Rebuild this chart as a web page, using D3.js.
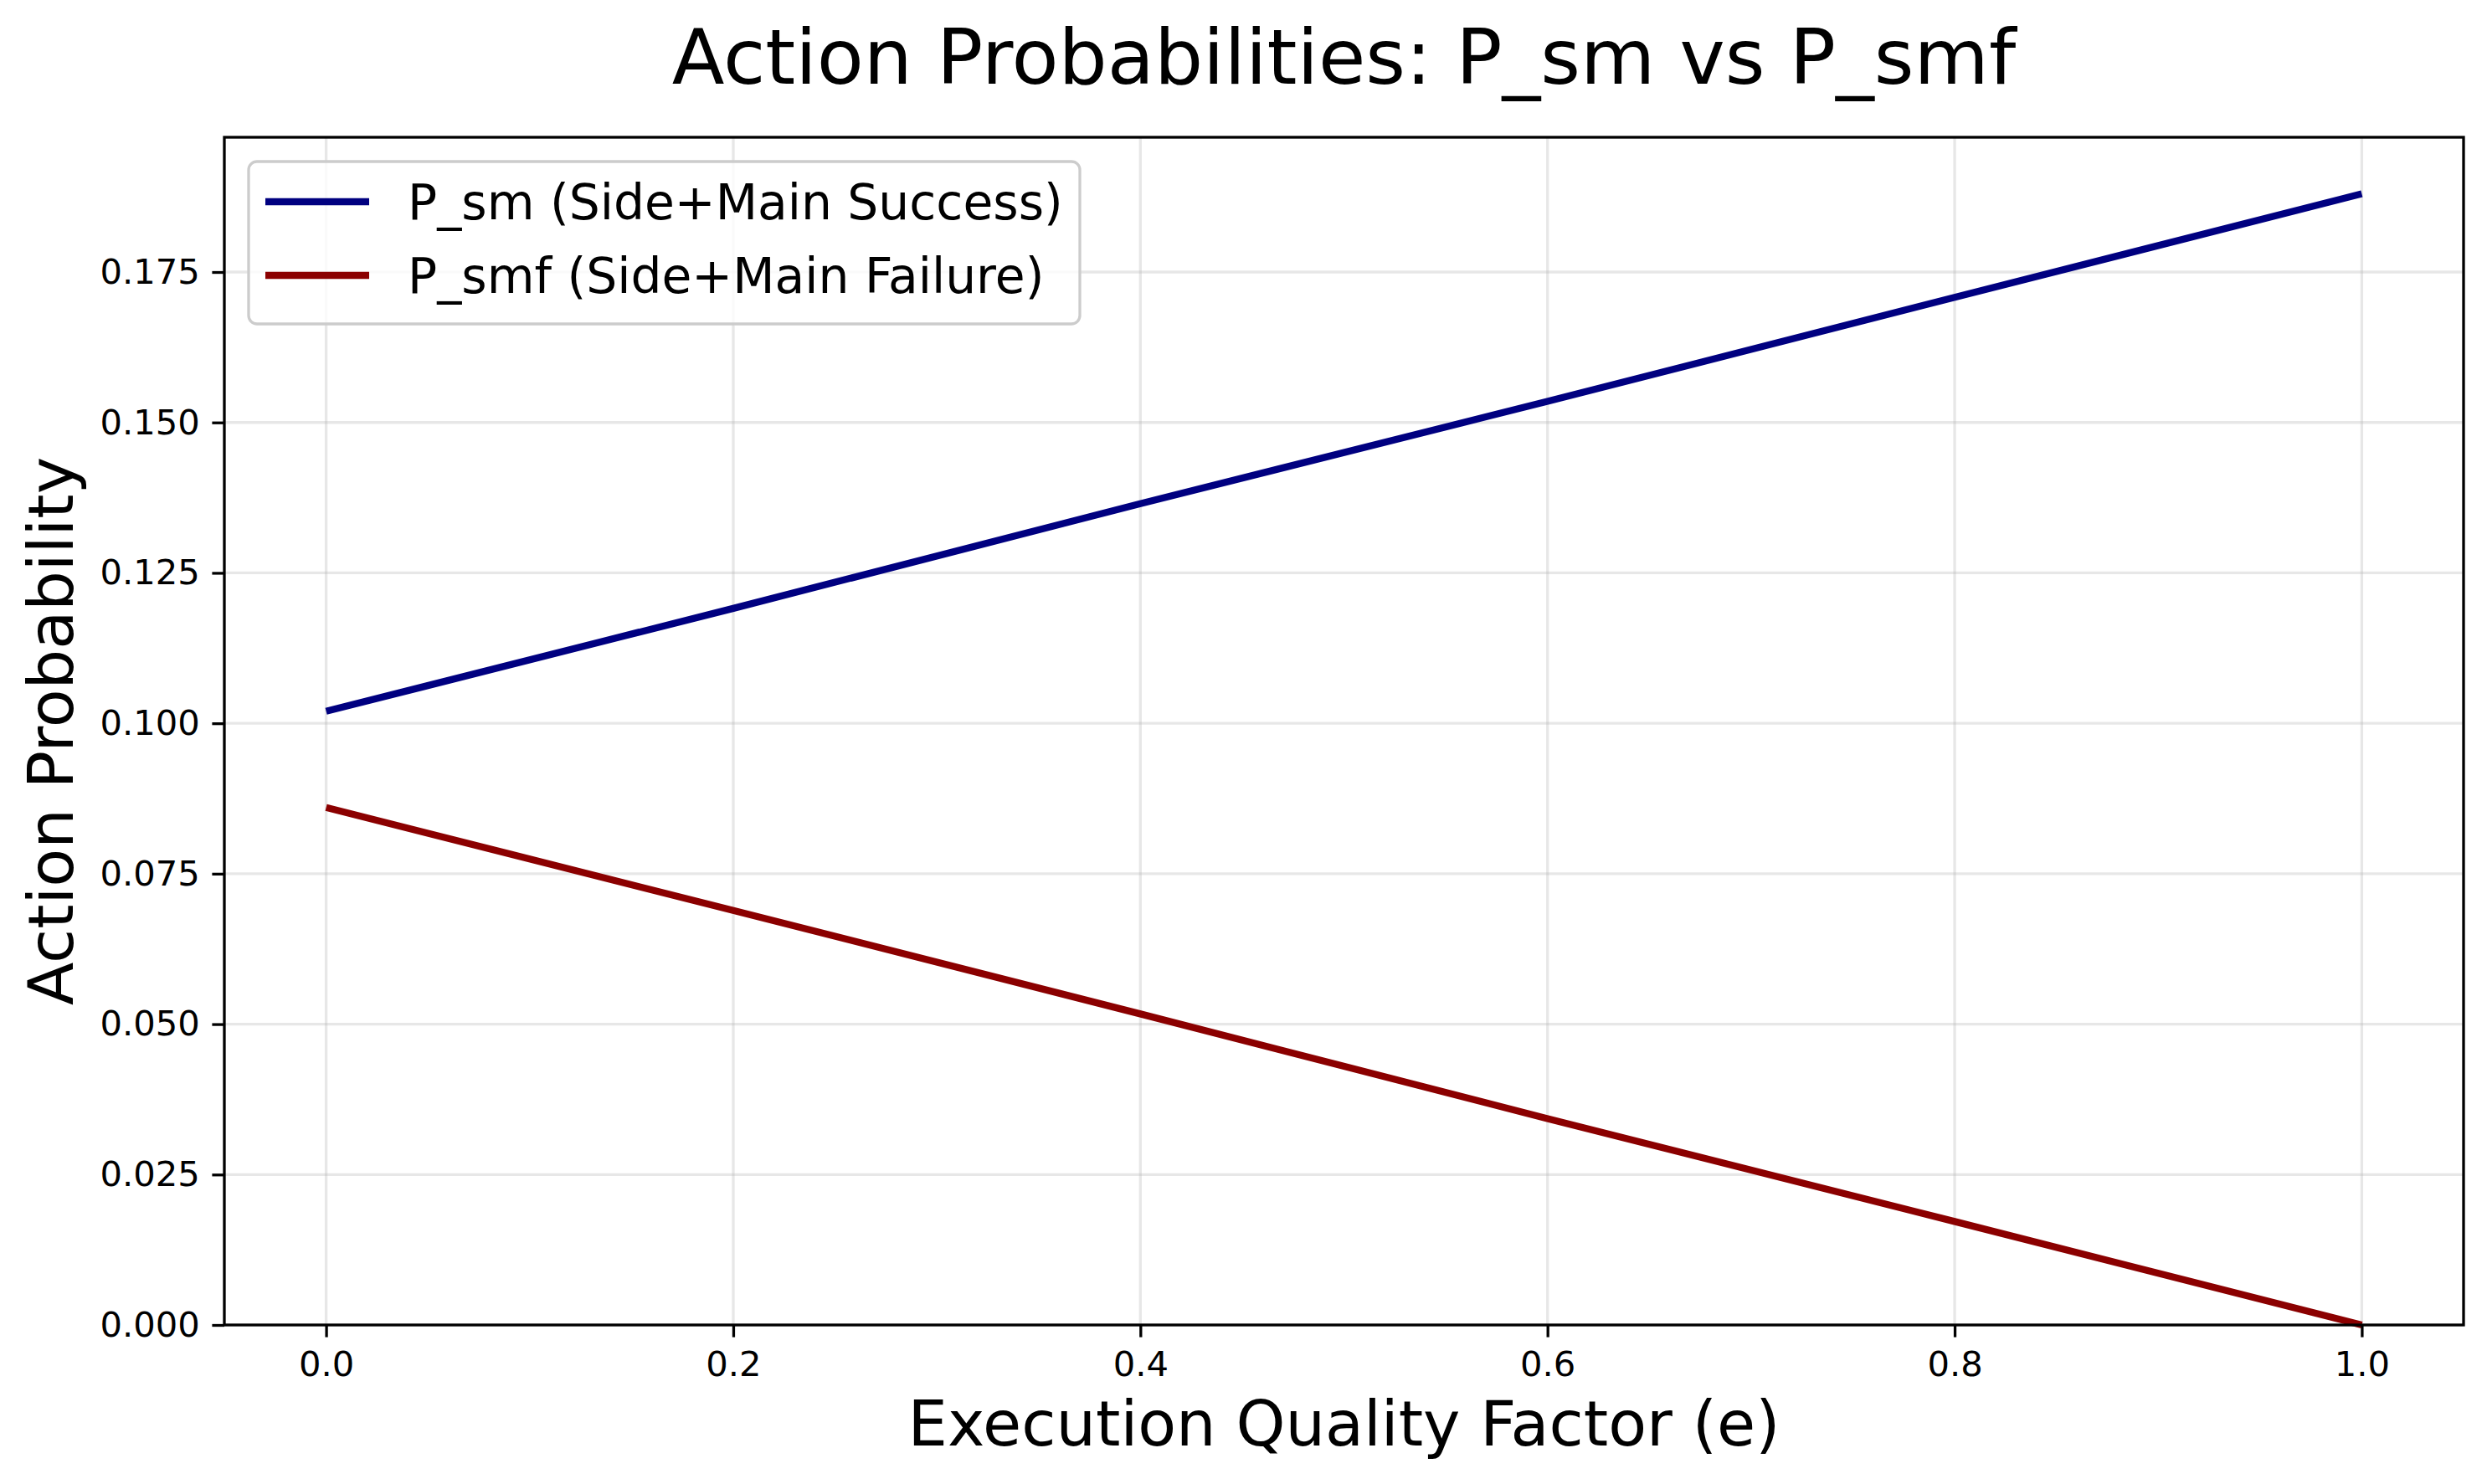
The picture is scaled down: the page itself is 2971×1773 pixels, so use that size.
<!DOCTYPE html>
<html lang="en">
<head>
  <meta charset="UTF-8" />
  <title>Action Probabilities: P_sm vs P_smf</title>
  <style>
    body {
      margin: 0;
      background: #fff;
      font-family: 'DejaVu Sans', sans-serif;
    }
    .grid line {
      stroke: #b0b0b0;
      stroke-opacity: 0.3;
      stroke-width: 3.3px;
    }
    .axis path, .axis line {
      stroke: #000;
      stroke-width: 3.3px;
    }
    .axis text {
      font-size: 41.7px;
      fill: #000;
      font-family: 'DejaVu Sans', sans-serif;
    }
    .series {
      fill: none;
      stroke-width: 8.3px;
    }
  </style>
</head>
<body>
  <svg id="chart"></svg>

  <script src="https://d3js.org/d3.v7.min.js"></script>
  <script>
    // values
    const quality = [0.0, 0.2, 0.4, 0.6, 0.8, 1.0];
    const pSm = [0.102, 0.1191, 0.1365, 0.1535, 0.1708, 0.188];
    const pSmf = [0.086, 0.0689, 0.0517, 0.0343, 0.0172, 0.0];
    const seriesNames = ["P_sm (Side+Main Success)", "P_smf (Side+Main Failure)"];
    const seriesColors = ["#000080", "#8b0000"];
    const xTicks = [0.0, 0.2, 0.4, 0.6, 0.8, 1.0];
    const yTicks = [0.000, 0.025, 0.050, 0.075, 0.100, 0.125, 0.150, 0.175];

    const width = 2971;
    const height = 1773;
    const margin = { top: 164, right: 28, bottom: 190, left: 268 };
    const innerW = width - margin.left - margin.right;
    const innerH = height - margin.top - margin.bottom;

    const svg = d3.select("#chart")
      .attr("width", width)
      .attr("height", height);

    svg.append("rect")
      .attr("width", width)
      .attr("height", height)
      .attr("fill", "#fff");

    const g = svg.append("g")
      .attr("transform", `translate(${margin.left},${margin.top})`);

    const x = d3.scaleLinear().domain([-0.05, 1.05]).range([0, innerW]);
    const y = d3.scaleLinear().domain([0, 0.1974]).range([innerH, 0]);

    // grid
    g.append("g").attr("class", "grid")
      .selectAll("line.gx")
      .data(xTicks)
      .join("line")
      .attr("x1", d => x(d)).attr("x2", d => x(d))
      .attr("y1", 0).attr("y2", innerH);

    g.append("g").attr("class", "grid")
      .selectAll("line.gy")
      .data(yTicks)
      .join("line")
      .attr("x1", 0).attr("x2", innerW)
      .attr("y1", d => y(d)).attr("y2", d => y(d));

    // series
    const series = [pSm, pSmf];
    const line = d3.line()
      .x((d, i) => x(quality[i]))
      .y(d => y(d));

    g.selectAll("path.series")
      .data(series)
      .join("path")
      .attr("class", "series")
      .attr("stroke", (d, i) => seriesColors[i])
      .attr("d", d => line(d));

    // axes
    const xAxis = d3.axisBottom(x)
      .tickValues(xTicks)
      .tickFormat(d3.format(".1f"))
      .tickSize(14.6)
      .tickPadding(14.6)
      .tickSizeOuter(0);

    const yAxis = d3.axisLeft(y)
      .tickValues(yTicks)
      .tickFormat(d3.format(".3f"))
      .tickSize(14.6)
      .tickPadding(14.6)
      .tickSizeOuter(0);

    const gx = g.append("g").attr("class", "axis")
      .attr("transform", `translate(0,${innerH})`)
      .call(xAxis);
    gx.select(".domain").remove();
    gx.selectAll("text").attr("dy", "0.76em");

    const gy = g.append("g").attr("class", "axis").call(yAxis);
    gy.select(".domain").remove();

    // frame
    g.append("rect")
      .attr("width", innerW)
      .attr("height", innerH)
      .attr("fill", "none")
      .attr("stroke", "#000")
      .attr("stroke-width", 3.3);

    // labels
    svg.append("text")
      .attr("x", margin.left + innerW / 2)
      .attr("y", 100)
      .attr("text-anchor", "middle")
      .attr("font-size", 91.7)
      .text("Action Probabilities: P_sm vs P_smf");

    svg.append("text")
      .attr("x", margin.left + innerW / 2)
      .attr("y", 1727)
      .attr("text-anchor", "middle")
      .attr("font-size", 75)
      .text("Execution Quality Factor (e)");

    svg.append("text")
      .attr("transform", `translate(87,${margin.top + innerH / 2}) rotate(-90)`)
      .attr("text-anchor", "middle")
      .attr("font-size", 75)
      .text("Action Probability");

    // legend
    const legend = svg.append("g");
    legend.append("rect")
      .attr("x", 297).attr("y", 193)
      .attr("width", 993).attr("height", 194)
      .attr("rx", 10)
      .attr("fill", "#fff")
      .attr("fill-opacity", 0.8)
      .attr("stroke", "#cccccc")
      .attr("stroke-width", 3.3);

    const item = legend.selectAll("g.item")
      .data(seriesNames)
      .join("g")
      .attr("transform", (d, i) => `translate(0,${241 + i * 88})`);

    item.append("line")
      .attr("x1", 317).attr("x2", 441)
      .attr("stroke", (d, i) => seriesColors[i])
      .attr("stroke-width", 8.3);

    item.append("text")
      .attr("x", 487)
      .attr("y", 21)
      .attr("font-size", 58.3)
      .text(d => d);
  </script>
</body>
</html>
